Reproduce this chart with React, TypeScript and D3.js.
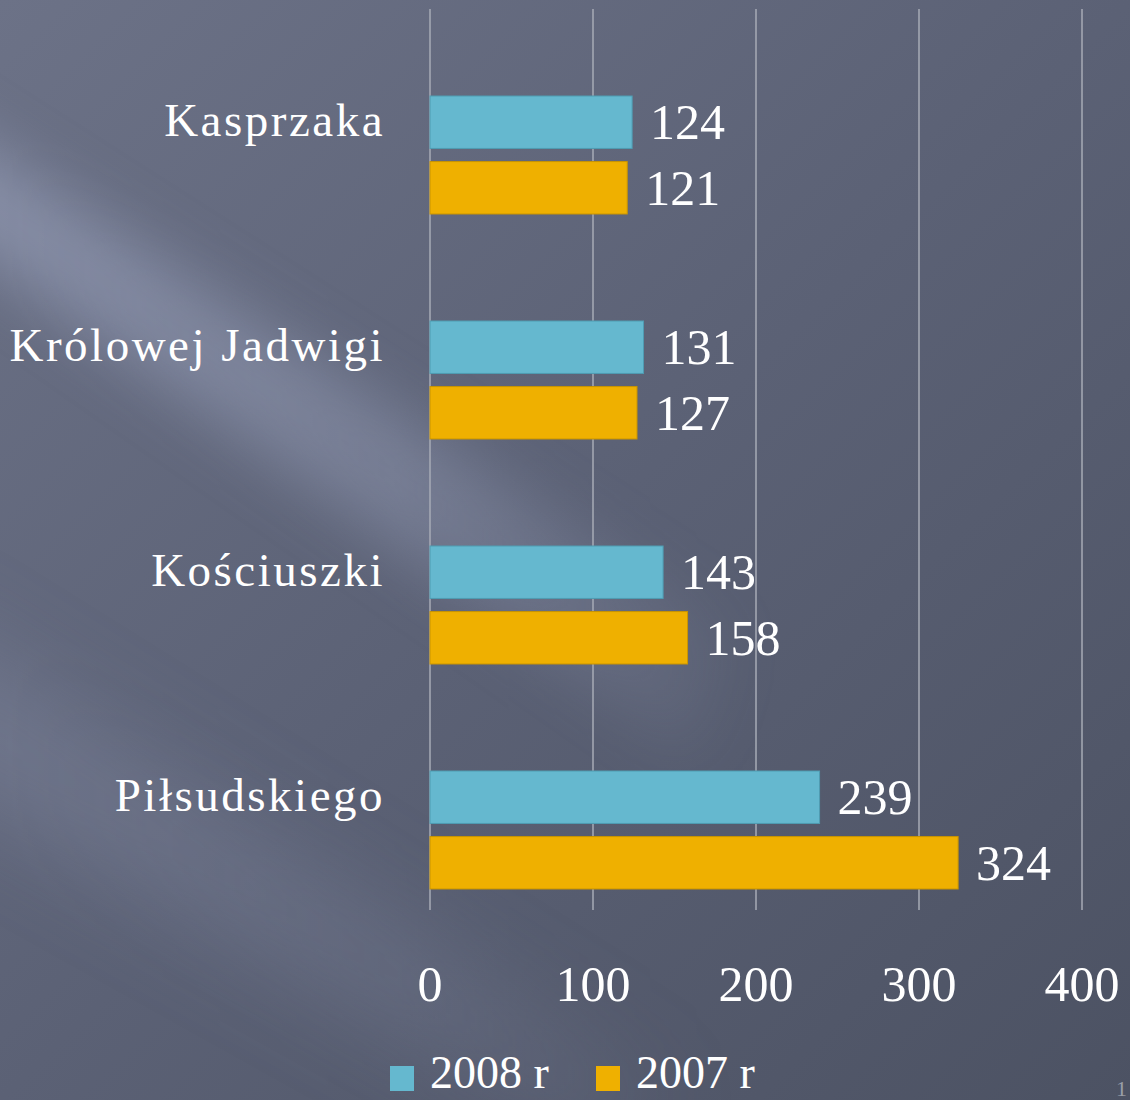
import React from "react";
import * as d3 from "d3";

const categories = ["Kasprzaka", "Królowej Jadwigi", "Kościuszki", "Piłsudskiego"];
const series = ["2008 r", "2007 r"];
const values2008 = [124, 131, 143, 239];
const values2007 = [121, 127, 158, 324];
const ticks = [0, 100, 200, 300, 400];
const colors = ["#65B8CF", "#EFB000"];

const W = 1130;
const H = 1100;
const FONT = "Liberation Serif, DejaVu Serif, serif";

export default function App() {
  const x = d3.scaleLinear().domain([0, 400]).range([430, 1082]);
  const y = d3.scaleBand<string>().domain(categories).range([42.5, 942.5]).padding(0);
  const inner = d3.scaleBand<string>().domain(series).range([53.5, 171.5]).paddingInner(0.2);
  const data = [values2008, values2007];

  return (
    <svg
      width={W}
      height={H}
      style={{ position: "absolute", left: 0, top: 0, display: "block" }}
      xmlns="http://www.w3.org/2000/svg"
    >
      <defs>
        <linearGradient id="bg" x1="0" y1="0" x2="1" y2="1">
          <stop offset="0" stopColor="#6c7287" />
          <stop offset="0.5" stopColor="#5b6175" />
          <stop offset="1" stopColor="#4c5263" />
        </linearGradient>
        <filter id="blur" x="-50%" y="-50%" width="200%" height="200%">
          <feGaussianBlur stdDeviation="30" />
        </filter>
        <filter id="blur2" x="-50%" y="-50%" width="200%" height="200%">
          <feGaussianBlur stdDeviation="45" />
        </filter>
        <linearGradient id="fade" x1="0" y1="0" x2="1" y2="0">
          <stop offset="0" stopColor="#fff" stopOpacity="1" />
          <stop offset="0.35" stopColor="#fff" stopOpacity="0.7" />
          <stop offset="0.7" stopColor="#fff" stopOpacity="0" />
        </linearGradient>
        <mask id="m">
          <rect x="0" y="0" width={W} height={H} fill="url(#fade)" />
        </mask>
      </defs>
      <rect x="0" y="0" width={W} height={H} fill="url(#bg)" />
      <g mask="url(#m)">
        <polygon
          points="-100,90 -100,200 700,760 760,640"
          fill="#a3abc6"
          opacity="0.5"
          filter="url(#blur)"
        />
        <polygon
          points="-100,600 -100,760 600,1150 700,1100"
          fill="#8a92aa"
          opacity="0.35"
          filter="url(#blur2)"
        />
      </g>

      {ticks.map((t) => (
        <line
          key={"g" + t}
          x1={x(t)}
          x2={x(t)}
          y1={9}
          y2={910}
          stroke="#a7abb6"
          strokeWidth={1.5}
        />
      ))}

      {categories.map((c, i) => (
        <g key={c} transform={`translate(0,${y(c)})`}>
          {series.map((s, j) => {
            const v = data[j][i];
            const by = inner(s)!;
            const bh = inner.bandwidth();
            return (
              <g key={s}>
                <rect
                  x={x(0)}
                  y={by}
                  width={x(v) - x(0)}
                  height={bh}
                  fill={colors[j]}
                  stroke={j === 0 ? "#4f9cb2" : "#c99400"}
                  strokeWidth={1}
                />
                <text
                  x={x(v) + 18}
                  y={by + bh / 2 + 17}
                  fill="#ffffff"
                  fontFamily={FONT}
                  fontSize={50}
                >
                  {v}
                </text>
              </g>
            );
          })}
          <text
            x={385}
            y={93}
            textAnchor="end"
            fill="#ffffff"
            fontFamily={FONT}
            fontSize={47}
            letterSpacing={2.5}
          >
            {c}
          </text>
        </g>
      ))}

      {ticks.map((t) => (
        <text
          key={"t" + t}
          x={x(t)}
          y={1001}
          textAnchor="middle"
          fill="#ffffff"
          fontFamily={FONT}
          fontSize={50}
        >
          {t}
        </text>
      ))}

      {series.map((s, j) => {
        const lx = j === 0 ? 390 : 596;
        return (
          <g key={"l" + s}>
            <rect x={lx} y={1066} width={24} height={25} fill={colors[j]} />
            <text
              x={lx + 40}
              y={1088}
              fill="#ffffff"
              fontFamily={FONT}
              fontSize={46}
            >
              {s}
            </text>
          </g>
        );
      })}

      <text x={1116} y={1096} fill="#9a9ea8" fontFamily={FONT} fontSize={22}>
        1
      </text>
    </svg>
  );
}
